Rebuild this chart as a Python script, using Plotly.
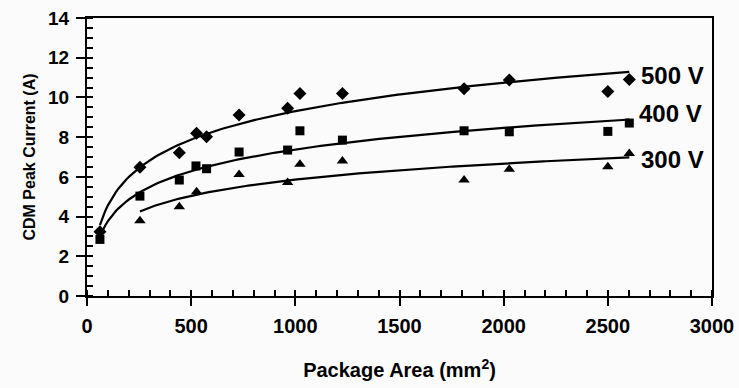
import numpy as np
import plotly.graph_objects as go

# Data
x_500 = [62, 254, 443, 526, 574, 730, 963, 1022, 1226, 1810, 2027, 2500, 2603]
y_500 = [3.24, 6.48, 7.22, 8.19, 8.02, 9.11, 9.45, 10.2, 10.2, 10.44, 10.88, 10.3, 10.9]

x_400 = [62, 254, 443, 523, 574, 730, 963, 1022, 1226, 1810, 2027, 2500, 2603]
y_400 = [2.85, 5.03, 5.84, 6.55, 6.41, 7.25, 7.35, 8.32, 7.85, 8.32, 8.27, 8.29, 8.71]

x_300 = [254, 443, 526, 730, 963, 1022, 1226, 1810, 2027, 2500, 2603]
y_300 = [3.79, 4.5, 5.25, 6.12, 5.72, 6.63, 6.8, 5.84, 6.38, 6.51, 7.18]

labels = ["500 V", "400 V", "300 V"]
label_x = [2650, 2640, 2650]
label_y = [11.1, 9.2, 6.85]

x_ticks = [0, 500, 1000, 1500, 2000, 2500, 3000]
y_ticks = [0, 2, 4, 6, 8, 10, 12, 14]

series = [(x_500, y_500, "diamond", 10), (x_400, y_400, "square", 9), (x_300, y_300, "triangle-up", 10)]

FAM = "Liberation Sans, Arial"
fig = go.Figure()
for (xs, ys, sym, sz), lab in zip(series, labels):
    xs_a = np.array(xs, float)
    ys_a = np.array(ys, float)
    b, a = np.polyfit(np.log(xs_a), ys_a, 1)
    xf = np.linspace(xs_a.min(), xs_a.max(), 200)
    fig.add_trace(go.Scatter(x=xf, y=a + b * np.log(xf), mode="lines",
                             line=dict(color="black", width=2.2), showlegend=False,
                             hoverinfo="skip"))
    fig.add_trace(go.Scatter(x=xs, y=ys, mode="markers", name=lab,
                             marker=dict(symbol=sym, size=sz, color="black"),
                             showlegend=False, cliponaxis=False))

for lab, lx, ly in zip(labels, label_x, label_y):
    fig.add_annotation(x=lx, y=ly, text="<b>%s</b>" % lab, showarrow=False,
                       xanchor="left", yanchor="middle",
                       font=dict(size=24, color="black", family=FAM))

fig.update_layout(
    width=739, height=388,
    margin=dict(l=87, r=27, t=18, b=92),
    paper_bgcolor="#fbfbfb", plot_bgcolor="#fbfbfb",
    font=dict(family=FAM, color="black", size=16),
    xaxis=dict(range=[0, 3000], tickvals=x_ticks,
               ticktext=["<b>%d</b>" % v for v in x_ticks],
               showgrid=False, zeroline=False, automargin=False,
               ticklabeloverflow="allow", ticklabelstandoff=3,
               showline=True, linecolor="black", linewidth=2, mirror=True,
               ticks="outside", ticklen=8, tickwidth=2, tickcolor="black",
               tickfont=dict(size=20, family=FAM, color="black"),
               minor=dict(dtick=100, ticks="inside", ticklen=6, tickwidth=1.5,
                          tickcolor="black", showgrid=False),
               title=dict(text="<b>Package Area (mm<sup>2</sup>)</b>",
                          font=dict(size=20, family=FAM, color="black"),
                          standoff=27)),
    yaxis=dict(range=[0, 14], tickvals=y_ticks,
               ticktext=["<b>%d</b>" % v for v in y_ticks],
               showgrid=False, zeroline=False, automargin=False,
               ticklabeloverflow="allow", ticklabelstandoff=3,
               showline=True, linecolor="black", linewidth=2, mirror=True,
               ticks="outside", ticklen=9, tickwidth=2, tickcolor="black",
               tickfont=dict(size=19, family=FAM, color="black"),
               minor=dict(dtick=0.5, ticks="inside", ticklen=6, tickwidth=1.5,
                          tickcolor="black", showgrid=False),
               title=dict(text="<b>CDM Peak Current (A)</b>",
                          font=dict(size=16, family=FAM, color="black"),
                          standoff=8)),
)

# remove the default 8px page margin so the figure fills the window exactly
fig.write_html("out.html", config={"displayModeBar": False},
               post_script="document.body.style.margin='0px';")
